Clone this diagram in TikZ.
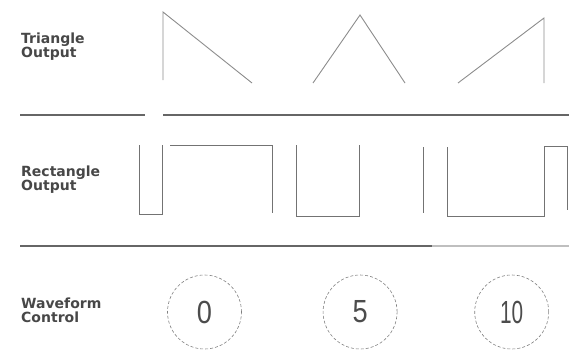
\documentclass[tikz,border=0pt]{standalone}
\usepackage{fontspec}
\newfontfamily\labelfont{DejaVu Sans}
\newfontfamily\dialfont{Liberation Sans}
\usetikzlibrary{positioning}
\tikzset{
    rowlabel/.style={anchor=west, align=left, inner sep=0pt, font=\labelfont\bfseries\fontsize{14}{14}\selectfont, text=black!72},
    wave/.style={draw=black!45, line width=0.9pt},
    divider/.style={draw=black!60, line width=1.2pt},
    dial/.style={circle, draw=black!50, dash pattern=on 3pt off 2pt, line width=0.6pt, minimum size=74pt, inner sep=0pt, font=\dialfont\fontsize{32}{32}\selectfont, text=black!70}
}

\begin{document}
\begin{tikzpicture}[x=1pt, y=-1pt, node distance=80pt]
        \useasboundingbox (0,0) rectangle (569,351);
        % row labels
        \node [rowlabel] (triout) at (21,47) {Triangle\\Output};
        \node [rowlabel] (rectout) at (21,180) {Rectangle\\Output};
        \node [rowlabel] (wavectl) at (21,310) {Waveform\\Control};
        % triangle output
        \draw [wave] (163,80) -- (163,12) -- (252,83);
        \draw [wave] (313,83) -- (360,15) -- (405,83);
        \draw [wave] (458,83) -- (544,18) -- (544,83);
        \draw [divider] (20,115) -- (145,115);
        \draw [divider] (163,115) -- (569,115);
        % rectangle output
        \draw [wave, draw=black!55] (139,145) -- (139,214) -- (162,214) -- (162,145);
        \draw [wave, draw=black!55] (170,145) -- (272,145) -- (272,213);
        \draw [wave, draw=black!55] (296,145) -- (296,216) -- (359,216) -- (359,145);
        \draw [wave, draw=black!55] (423,147) -- (423,213);
        \draw [wave, draw=black!55] (447,147) -- (447,216) -- (544,216) -- (544,146) -- (567,146) -- (567,210);
        \draw [divider] (20,246) -- (432,246);
        \draw [divider, draw=black!25] (432,246) -- (569,246);
        % waveform control
        \node [dial] (zero) at (204.5,312) {\scalebox{0.85}[1]{0}};
        \node [dial, right=81pt of zero] (five) {\scalebox{0.85}[1]{5}};
        \node [dial, right=77pt of five] (ten) {\scalebox{0.65}[1]{10}};
    \end{tikzpicture}
\end{document}
